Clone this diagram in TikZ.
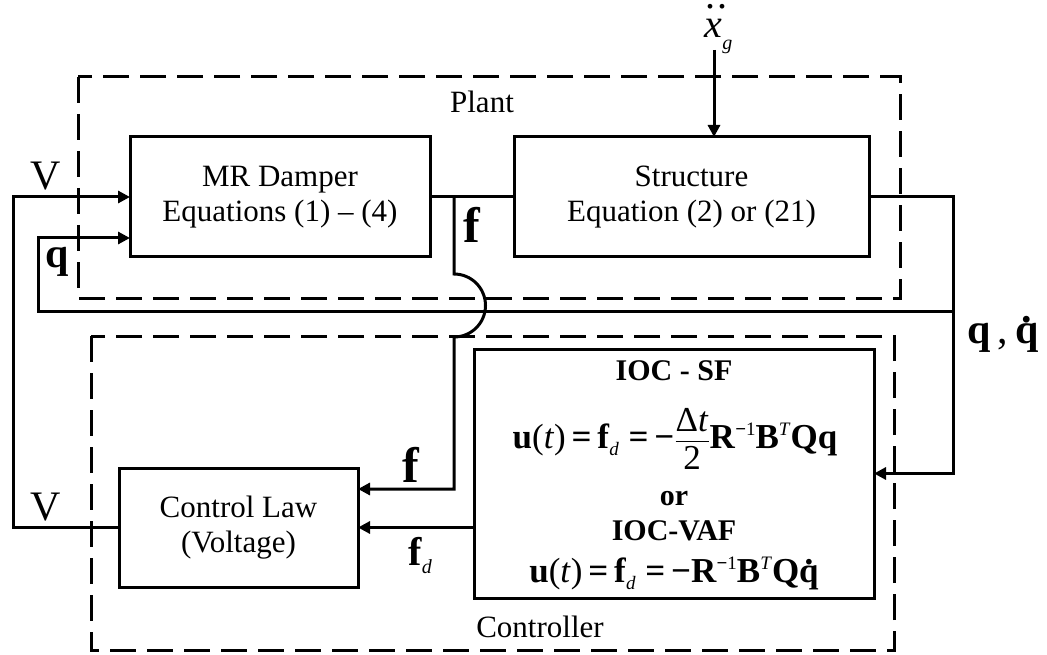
\documentclass[tikz,border=0pt]{standalone}
\usepackage{amsmath}
\usepackage{fontspec}
\setmainfont{Liberation Serif}
\usetikzlibrary{arrows.meta}
\newcommand{\Sb}[1]{\raisebox{-7pt}{\fontsize{19}{19}\selectfont\mdseries\itshape #1}}
\newcommand{\Sp}[1]{\raisebox{13pt}{\fontsize{19}{19}\selectfont #1}}
\newcommand{\dotq}{\ooalign{\textbf{q}\cr\hidewidth\raisebox{0.5em}{\textbf{.}}\hidewidth\cr}}
\newcommand{\ddotx}{\ooalign{\itshape x\cr\hidewidth\kern0.14em\raisebox{0.74em}{.\kern0.05em.}\hidewidth\cr}}
\begin{document}
\begin{tikzpicture}[x=1pt,y=-1pt,
  line width=3pt,
  box/.style={draw, rectangle, inner sep=0pt, outer sep=0pt, align=center, font=\fontsize{31}{35}\selectfont},
  grp/.style={draw, dash pattern=on 26pt off 11pt, line width=3pt},
  arr/.style={-{Triangle[length=12pt,width=12pt]}},
  txt/.style={font=\fontsize{31}{35}\selectfont, inner sep=0pt, anchor=base},
  txtb/.style={font=\bfseries\fontsize{30}{35}\selectfont, inner sep=0pt, anchor=base},
  eqn/.style={font=\fontsize{35}{40}\selectfont, inner sep=0pt, anchor=base},
  lbl/.style={font=\fontsize{42}{42}\selectfont, inner sep=0pt, anchor=base},
  lblb/.style={font=\bfseries\fontsize{42}{42}\selectfont, inner sep=0pt, anchor=base},
  lblf/.style={font=\bfseries\fontsize{50}{50}\selectfont, inner sep=0pt, anchor=base},
]
\useasboundingbox (0,0) rectangle (1047,655);

% group frames
\draw[grp] (78,77) rectangle (900,298);
\draw[grp] (91,336) rectangle (894,650);
\node[txt] (plant) at (482,113) {Plant};
\node[txt] (controller) at (540,637) {Controller};

% blocks
\node[box, minimum width=300pt, minimum height=120pt] (mr) at (280,197) {MR Damper\\Equations (1) -- (4)};
\node[box, minimum width=355pt, minimum height=120pt] (st) at (691.5,197) {Structure\\Equation (2) or (21)};
\node[box, minimum width=239pt, minimum height=119pt] (ctrl) at (238.5,527.5) {Control Law\\(Voltage)};
\node[draw, rectangle, inner sep=0pt, outer sep=0pt, minimum width=400pt, minimum height=249pt] (ioc) at (674,473.5) {};

% IOC text
\node[txtb] (ioc1) at (674,380) {IOC - SF};
\node[eqn] (eq1) at (675,448) {\textbf{u}(\textit{t})\,\textbf{=}\,\textbf{f}\Sb{d}\;\textbf{=}\,\textbf{−}$\genfrac{}{}{1.2pt}{0}{\mbox{Δ\textit{t}}}{\mbox{2}}$\textbf{R}\Sp{\textbf{−}1}\textbf{B}\Sp{\textit{T}}\textbf{Qq}};
\node[txtb] (or) at (674,505) {or};
\node[txtb] (ioc2) at (674,540) {IOC-VAF};
\node[eqn] (eq2) at (674,582) {\textbf{u}(\textit{t})\,\textbf{=}\,\textbf{f}\Sb{d}\;\textbf{=}\,\textbf{−}\textbf{R}\Sp{\textbf{−}1}\textbf{B}\Sp{\textit{T}}\textbf{Q}\dotq};

% coordinates
\coordinate (fj) at (454,197);
\coordinate (fa) at (454,274);
\coordinate (fc) at (454,489);
\coordinate (sj) at (953,197);
\coordinate (qj) at (953,311);
\coordinate (qc) at (38,311);
\coordinate (qe) at (38,238);
\coordinate (vt) at (13,197);
\coordinate (xs) at (714,50);

% connectors
\draw (mr.east) -- (st.west);
\draw[arr] (fj) -- (fa) arc[start angle=90, end angle=-90, radius=31.5pt] -- (fc) -- (fc -| ctrl.east);
\draw[arr] (st.east) -- (sj) -- (sj |- ioc.east) -- (ioc.east);
\draw[arr] (qj) -- (qc) -- (qe) -- (qe -| mr.west);
\draw[arr] (ctrl.west) -| (vt) -- (mr.west);
\draw[arr] (ioc.west |- ctrl.east) -- (ctrl.east);
\draw[arr] (xs) -- (xs |- st.north);

% labels
\node[lbl] (vtop) at (46,190) {V};
\node[lblb] (qlbl) at (57,268) {q};
\node[lblf] (ftop) at (472,243) {f};
\node[lblf] (fbot) at (411,482) {f};
\node[inner sep=0pt, anchor=base west] (fd) at (407,565) {\bfseries\fontsize{40}{40}\selectfont f\raisebox{-8pt}{\mdseries\fontsize{20}{20}\selectfont\itshape d}};
\node[lbl] (vbot) at (46,520) {V};
\node[inner sep=0pt, anchor=base west] (qq) at (966,343) {\fontsize{42}{42}\selectfont\textbf{q}\,,\,\dotq};
\node[inner sep=0pt, anchor=base west] (xg) at (703,38) {\fontsize{40}{40}\selectfont\ddotx\raisebox{-12pt}{\fontsize{20}{20}\selectfont\itshape g}};
\end{tikzpicture}
\end{document}
